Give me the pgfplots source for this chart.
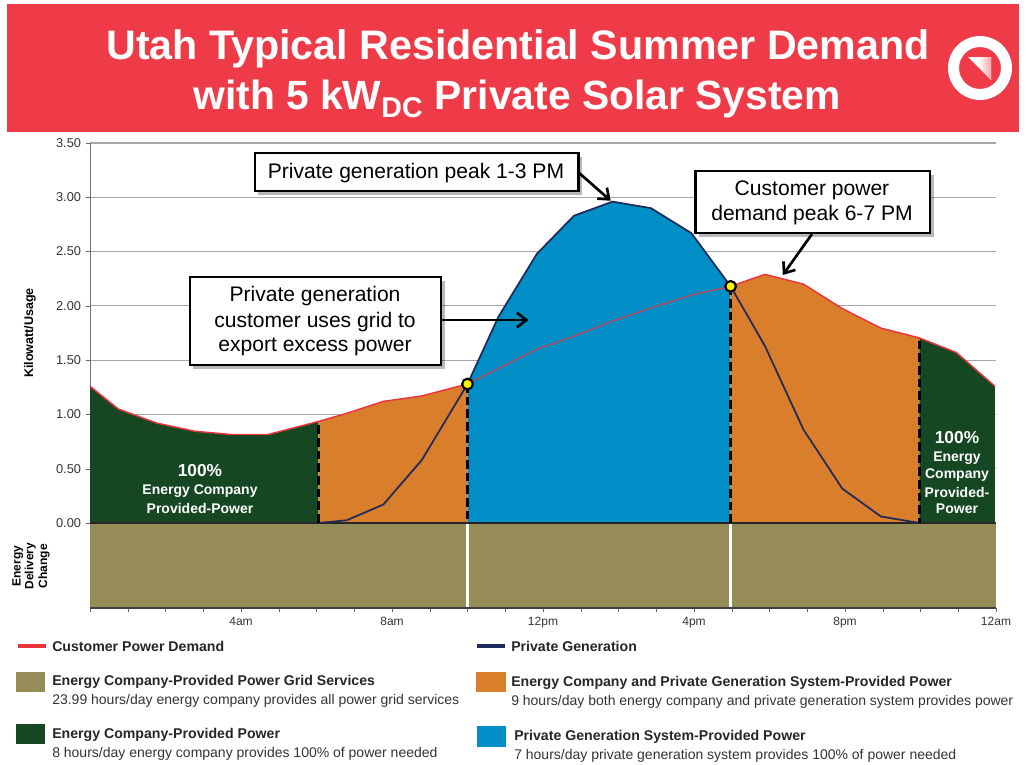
\documentclass[border=0pt]{standalone}
\usepackage{fontspec}
\setmainfont{Liberation Sans}
\usepackage{pgfplots}
\pgfplotsset{compat=1.18}
\usetikzlibrary{arrows.meta}
\definecolor{banner}{HTML}{EF3B47}
\definecolor{dgreen}{HTML}{154723}
\definecolor{orng}{HTML}{D97F2B}
\definecolor{blu}{HTML}{008EC6}
\definecolor{olv}{HTML}{968C58}
\definecolor{redl}{HTML}{E8343C}
\definecolor{rose}{HTML}{B04A62}
\definecolor{navy}{HTML}{1F2A5A}
\definecolor{gridc}{HTML}{A6A6A6}
\newcommand{\fs}[1]{\fontsize{#1}{1.15\dimexpr#1pt\relax}\selectfont}
\begin{document}
\begin{tikzpicture}
\begin{scope}[x=0.75pt,y=-0.75pt]
\path[use as bounding box] (0,0) rectangle (1026,765);
\fill[banner] (7,4) rectangle (1019,132);
\node[text=white,font=\bfseries\fs{30.9},anchor=center] at (518,49) {Utah Typical Residential Summer Demand};
\node[text=white,font=\bfseries\fs{30.6},anchor=center] at (517,99) {with 5 kW\textsubscript{DC} Private Solar System};
\fill[white,even odd rule] (980,68) circle (32) (980,68) circle (21);
\fill[white] (968,57) -- (991,57) -- (991,80) -- cycle;
\shade[left color=white,right color=banner!45!white] (978,57) -- (991,57) -- (991,80) -- (984,72) -- cycle;
\end{scope}
\begin{axis}[
  at={(67.5pt,-456pt)},anchor=south west,
  scale only axis,width=679.5pt,height=348.75pt,
  xmin=0,xmax=24,ymin=-0.783,ymax=3.5,
  axis x line=bottom,axis y line=left,
  axis line style={-,draw=black!55},
  tick style={black!60},
  tick align=outside,
  major tick length=3.2pt,
  xtick={0,1,...,24},
  xticklabels={,,,,4am,,,,8am,,,,12pm,,,,4pm,,,,8pm,,,,12am},
  ytick={0,0.5,1,1.5,2,2.5,3,3.5},
  yticklabel style={/pgf/number format/fixed,/pgf/number format/fixed zerofill,/pgf/number format/precision=2,/pgf/number format/assume math mode=true,font=\fs{9.6},text=black!80},
  xticklabel style={font=\fs{9},text=black!80},
  ymajorgrids,
  grid style={gridc,line width=0.8pt},
  clip=false,
]
% grid services band
\addplot[fill=olv,draw=none] coordinates {(0,-0.783)(24,-0.783)(24,0)(0,0)} -- cycle;
\addplot[black!75,line width=0.9pt] coordinates {(0,-0.783)(24,-0.783)};
\addplot[white,line width=2.2pt] coordinates {(10,-0.77)(10,0)};
\addplot[white,line width=2.2pt] coordinates {(16.97,-0.77)(16.97,0)};
% areas
\addplot[fill=dgreen,draw=none] coordinates {(0,0)(0,1.26)(0.75,1.05)(1.77,0.92)(2.78,0.845)(3.75,0.815)(4.72,0.815)(6.05,0.935)(6.05,0)} -- cycle;
\addplot[fill=orng,draw=none] coordinates {(6.05,0)(6.05,0.935)(6.80,1.01)(7.77,1.12)(8.79,1.17)(10,1.28)(10,0)} -- cycle;
\addplot[fill=blu,draw=none] coordinates {(10,0)(10,1.28)(10.82,1.90)(11.84,2.48)(12.82,2.83)(13.84,2.96)(14.86,2.90)(15.93,2.67)(16.97,2.18)(16.97,0)} -- cycle;
\addplot[fill=orng,draw=none] coordinates {(16.97,0)(16.97,2.18)(17.88,2.29)(18.9,2.20)(19.93,1.975)(20.95,1.795)(21.97,1.705)(21.97,0)} -- cycle;
\addplot[fill=dgreen,draw=none] coordinates {(21.97,0)(21.97,1.705)(22.95,1.57)(23.97,1.26)(23.97,0)} -- cycle;
\addplot[black!85,line width=0.9pt] coordinates {(0,0)(24,0)};
% private generation
\addplot[navy,line width=1.3pt] coordinates {(6.05,0)(6.80,0.025)(7.77,0.17)(8.79,0.58)(10,1.28)(10.82,1.90)(11.84,2.48)(12.82,2.83)(13.84,2.96)(14.86,2.90)(15.93,2.67)(16.97,2.18)(17.88,1.63)(18.9,0.86)(19.93,0.316)(20.95,0.06)(21.97,0)};
% customer demand
\addplot[redl,line width=1.1pt] coordinates {(0,1.26)(0.75,1.05)(1.77,0.92)(2.78,0.845)(3.75,0.815)(4.72,0.815)(6.05,0.935)(6.80,1.01)(7.77,1.12)(8.79,1.17)(10,1.28)};
\addplot[rose,line width=1.1pt] coordinates {(10,1.28)(10.86,1.43)(11.84,1.60)(12.82,1.72)(13.84,1.86)(14.86,1.98)(15.93,2.10)(16.97,2.18)};
\addplot[redl,line width=1.1pt] coordinates {(16.97,2.18)(17.88,2.29)(18.9,2.20)(19.93,1.975)(20.95,1.795)(21.97,1.705)(22.95,1.57)(23.97,1.26)};
% boundaries
\addplot[black,line width=2.4pt,dash pattern=on 6.5pt off 3pt] coordinates {(6.05,0.9)(6.05,0)};
\addplot[black,line width=2.4pt,dash pattern=on 6.5pt off 3pt] coordinates {(10,1.28)(10,0)};
\addplot[black,line width=2.4pt,dash pattern=on 6.5pt off 3pt] coordinates {(16.97,2.18)(16.97,0)};
\addplot[black,line width=2.4pt,dash pattern=on 6.5pt off 3pt] coordinates {(21.97,1.68)(21.97,0)};
\addplot[only marks,mark=*,mark size=4pt,mark options={fill=yellow,draw=black,line width=1.6pt}] coordinates {(10,1.28)(16.97,2.18)};
\end{axis}
\begin{scope}[x=0.75pt,y=-0.75pt]
\node[rotate=90,font=\bfseries\fs{9.4}] at (30,333) {Kilowatt/Usage};
\node[rotate=90,font=\bfseries\fs{9},align=center,inner sep=0pt,text width=60pt] at (31,566) {\centering\baselineskip=9.5pt Energy\\Delivery\\Change};
% area texts
\node[white,font=\bfseries\fs{13}] at (200,471) {100\%};
\node[white,font=\bfseries\fs{10.5}] at (200,491) {Energy Company};
\node[white,font=\bfseries\fs{10.5}] at (200,508) {Provided-Power};
\node[white,font=\bfseries\fs{13}] at (957,438) {100\%};
\node[white,font=\bfseries\fs{10.5}] at (957,458) {Energy};
\node[white,font=\bfseries\fs{10.5}] at (957,475) {Company};
\node[white,font=\bfseries\fs{10.5}] at (957,492) {Provided-};
\node[white,font=\bfseries\fs{10.5}] at (957,509) {Power};
% callouts
\tikzset{cbox/.style={fill=white,draw=black,line width=2.2pt},
 cshad/.style={fill=black,opacity=0.28},
 carr/.style={black,line width=2pt,-{Straight Barb[length=7pt,width=11pt]}}}
\draw[carr] (578,172) -- (610.7,200.7);
\draw[carr] (812,234) -- (782.8,275);
\draw[carr] (441,320) -- (528.5,320);
\fill[cshad] (258,157) rectangle (582,195);
\fill[cshad] (193,281) rectangle (445,369);
\fill[cshad] (699,175) rectangle (934,237);
\draw[cbox] (255,153) rectangle (578.8,191);
\draw[cbox] (190,277) rectangle (441,365);
\draw[cbox] (695.6,171) rectangle (930,233);
\node[font=\fs{15.8}] at (416,173) {Private generation peak 1-3 PM};
\node[font=\fs{15.8}] at (315,296) {Private generation};
\node[font=\fs{15.8}] at (315,322) {customer uses grid to};
\node[font=\fs{15.8}] at (315,347) {export excess power};
\node[font=\fs{15.8}] at (812,190) {Customer power};
\node[font=\fs{15.8}] at (812,215) {demand peak 6-7 PM};
% legend
\tikzset{lb/.style={anchor=west,inner sep=0pt,font=\bfseries\fs{10.6},text=black!85},lr/.style={anchor=west,inner sep=0pt,font=\fs{10.5},text=black!80}}
\draw[redl,line width=3pt] (18,646) -- (46,646);
\node[lb] at (52,646) {Customer Power Demand};
\draw[navy,line width=3pt] (477,646) -- (505,646);
\node[lb] at (511,646) {Private Generation};
\fill[olv] (16,672) rectangle (45,692);
\node[lb] at (52,682) {Energy Company-Provided Power Grid Services};
\node[lr] at (52,701) {23.99 hours/day energy company provides all power grid services};
\fill[orng] (476,672) rectangle (506,692);
\node[lb] at (511,683) {Energy Company and Private Generation System-Provided Power};
\node[lr] at (511,702) {9 hours/day both energy company and private generation system provides power};
\fill[dgreen] (16,724) rectangle (45,744);
\node[lb] at (52,735) {Energy Company-Provided Power};
\node[lr] at (52,754) {8 hours/day energy company provides 100\% of power needed};
\fill[blu] (477,726) rectangle (506,747);
\node[lb] at (514,737) {Private Generation System-Provided Power};
\node[lr] at (514,756) {7 hours/day private generation system provides 100\% of power needed};
\end{scope}
\end{tikzpicture}
\end{document}
